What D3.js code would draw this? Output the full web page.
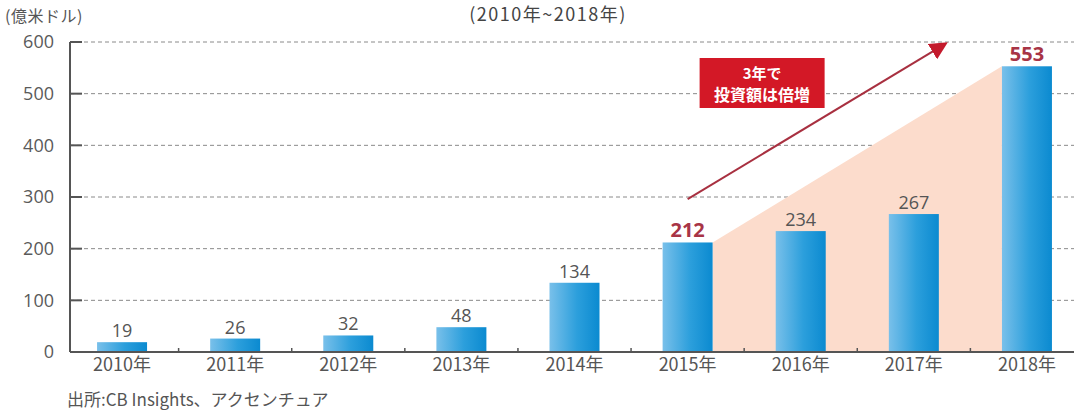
<!DOCTYPE html>
<html>
<head>
<meta charset="utf-8">
<script src="https://cdn.jsdelivr.net/npm/d3@7"></script>
<style>
  body { margin: 0; background: #fff; }
  text { font-family: "Noto Sans CJK JP", "DejaVu Sans", sans-serif; }
</style>
</head>
<body>
<div class="diagram"></div>
<script>
var width = 1074, height = 412;

// data
var years = ['2010年', '2011年', '2012年', '2013年', '2014年', '2015年', '2016年', '2017年', '2018年'];
var values = [19, 26, 32, 48, 134, 212, 234, 267, 553];
var yTicks = [0, 100, 200, 300, 400, 500, 600];
var redLabels = ['2015年', '2018年'];

var svg = d3.select('.diagram')
	.append('svg')
	.attr('width', width)
	.attr('height', height);

var x = d3.scaleBand()
	.domain(years)
	.range([65.5, 1083.5])
	.paddingInner(0);

var y = d3.scaleLinear()
	.domain([0, 600])
	.range([352, 42]);

var barW = 50;

// gradient for bars
var defs = svg.append('defs');
var grad = defs.append('linearGradient').attr('id', 'barGrad')
	.attr('x1', '0%').attr('x2', '100%').attr('y1', '0%').attr('y2', '0%');
grad.append('stop').attr('offset', '0%').attr('stop-color', '#79c0ea');
grad.append('stop').attr('offset', '55%').attr('stop-color', '#2c9fdc');
grad.append('stop').attr('offset', '100%').attr('stop-color', '#0b8ad0');

defs.append('marker').attr('id', 'arrowHead')
	.attr('viewBox', '0 0 10 10').attr('refX', 7).attr('refY', 5)
	.attr('markerWidth', 9).attr('markerHeight', 9)
	.attr('markerUnits', 'strokeWidth')
	.attr('orient', 'auto')
	.append('path').attr('d', 'M0,0 L10,5 L0,10 z').attr('fill', '#c41a2c');

// gridlines
svg.append('g')
	.selectAll('line')
	.data(yTicks.filter(function(d) { return d > 0; }))
	.enter()
	.append('line')
	.attr('x1', 70).attr('x2', width)
	.attr('y1', function(d) { return y(d); })
	.attr('y2', function(d) { return y(d); })
	.attr('stroke', '#8a8a8a')
	.attr('stroke-width', 1)
	.attr('stroke-dasharray', '4,3');

// pink area 2015 -> 2018
var i15 = years.indexOf('2015年'), i18 = years.indexOf('2018年');
var xa = x(years[i15]) + x.bandwidth() / 2 + barW / 2;
var xb = x(years[i18]) + x.bandwidth() / 2 - barW / 2;
svg.append('path')
	.attr('d', 'M' + xa + ',' + y(values[i15]) + 'L' + xb + ',' + y(values[i18]) +
		'L' + xb + ',' + y(0) + 'L' + xa + ',' + y(0) + 'Z')
	.attr('fill', '#fcdccc');

// bars
svg.append('g')
	.selectAll('rect')
	.data(values)
	.enter()
	.append('rect')
	.attr('x', function(d, i) { return x(years[i]) + x.bandwidth() / 2 - barW / 2; })
	.attr('y', function(d) { return y(d); })
	.attr('width', barW)
	.attr('height', function(d) { return y(0) - y(d); })
	.attr('fill', 'url(#barGrad)');

// value labels
svg.append('g')
	.selectAll('text')
	.data(values)
	.enter()
	.append('text')
	.attr('x', function(d, i) { return x(years[i]) + x.bandwidth() / 2; })
	.attr('y', function(d) { return y(d) - 5; })
	.attr('text-anchor', 'middle')
	.attr('font-size', function(d, i) { return redLabels.indexOf(years[i]) >= 0 ? 20 : 18; })
	.attr('font-weight', function(d, i) { return redLabels.indexOf(years[i]) >= 0 ? 'bold' : 'normal'; })
	.attr('fill', function(d, i) { return redLabels.indexOf(years[i]) >= 0 ? '#a83446' : '#555'; })
	.style('font-family', '"Open Sans", sans-serif')
	.text(function(d) { return d; });

// axes
var xAxis = svg.append('g')
	.attr('transform', 'translate(0,' + y(0) + ')')
	.call(d3.axisBottom(x).tickSize(0).tickPadding(6));
xAxis.select('.domain').remove();
xAxis.selectAll('text').attr('font-size', 18).attr('fill', '#555')
	.style('font-family', '"Noto Sans CJK JP", sans-serif');

svg.append('line')
	.attr('x1', 70).attr('x2', width)
	.attr('y1', y(0)).attr('y2', y(0))
	.attr('stroke', '#555').attr('stroke-width', 2);

// small ticks between bars
svg.append('g')
	.selectAll('line')
	.data(years.slice(1))
	.enter()
	.append('line')
	.attr('x1', function(d) { return x(d); })
	.attr('x2', function(d) { return x(d); })
	.attr('y1', y(0) - 4).attr('y2', y(0))
	.attr('stroke', '#555').attr('stroke-width', 1.5);

var yAxis = svg.append('g')
	.attr('transform', 'translate(70,0)')
	.call(d3.axisLeft(y).tickValues(yTicks).tickSize(0).tickPadding(16));
yAxis.select('.domain').remove();
yAxis.selectAll('text').attr('font-size', 18).attr('fill', '#5a5a5a')
	.style('font-family', '"Open Sans", sans-serif');

svg.append('line')
	.attr('x1', 70).attr('x2', 70)
	.attr('y1', y(600)).attr('y2', y(0))
	.attr('stroke', '#555').attr('stroke-width', 2);

svg.append('g')
	.selectAll('line')
	.data(yTicks)
	.enter()
	.append('line')
	.attr('x1', 70).attr('x2', 82)
	.attr('y1', function(d) { return y(d); })
	.attr('y2', function(d) { return y(d); })
	.attr('stroke', '#555').attr('stroke-width', 2);

// arrow annotation
var arrowStart = { year: '2015年', value: 296 };
var arrowEnd = { year: '2017年', offset: 0.26, value: 594 };
svg.append('line')
	.attr('x1', x(arrowStart.year) + x.bandwidth() / 2)
	.attr('y1', y(arrowStart.value))
	.attr('x2', x(arrowEnd.year) + x.bandwidth() * (0.5 + arrowEnd.offset))
	.attr('y2', y(arrowEnd.value))
	.attr('stroke', '#a83040')
	.attr('stroke-width', 2)
	.attr('marker-end', 'url(#arrowHead)');

// red box
var boxX = x('2015年') + x.bandwidth() / 2 + 12;
svg.append('rect')
	.attr('x', boxX).attr('y', 58)
	.attr('width', 125).attr('height', 50)
	.attr('fill', '#d31826');
svg.append('text')
	.attr('x', boxX + 62.5).attr('y', 79)
	.attr('text-anchor', 'middle')
	.attr('font-size', 15).attr('font-weight', 'bold')
	.attr('fill', '#fff')
	.text('3年で');
svg.append('text')
	.attr('x', boxX + 62.5).attr('y', 101)
	.attr('text-anchor', 'middle')
	.attr('font-size', 16).attr('font-weight', 'bold')
	.attr('fill', '#fff')
	.text('投資額は倍増');

// titles
svg.append('text')
	.attr('x', 548).attr('y', 21)
	.attr('text-anchor', 'middle')
	.attr('font-size', 18)
	.attr('letter-spacing', 1.5)
	.attr('fill', '#444')
	.text('(2010年~2018年)');

svg.append('text')
	.attr('x', 5).attr('y', 22)
	.attr('font-size', 16)
	.attr('letter-spacing', 0.5)
	.attr('fill', '#555')
	.text('(億米ドル)');

svg.append('text')
	.attr('x', 67).attr('y', 406)
	.attr('font-size', 17)
	.attr('fill', '#555')
	.text('出所:CB Insights、アクセンチュア');
</script>
</body>
</html>
